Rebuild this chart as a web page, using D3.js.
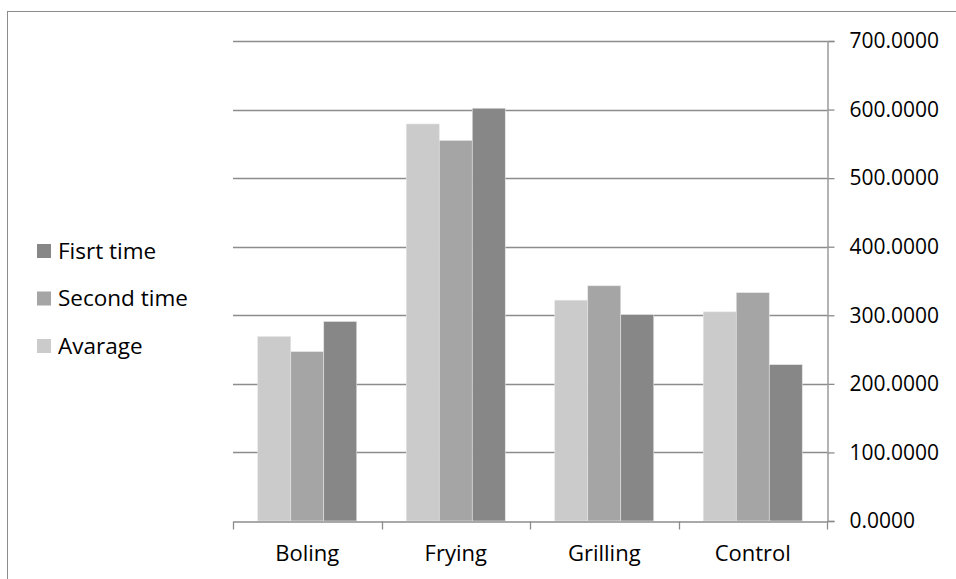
<!DOCTYPE html>
<html>
<head>
<meta charset="utf-8">
<script src="https://cdn.jsdelivr.net/npm/d3@7"></script>
<style>
  body { margin: 0; background: #fff; }
  svg text { font-family: "Open Sans", "Noto Sans", sans-serif; fill: #000; }
</style>
</head>
<body>
<div id="chart"></div>
<script>
// categories and series
const categories = ["Boling", "Frying", "Grilling", "Control"];
const seriesNames = ["Avarage", "Second time", "Fisrt time"];
const avarage = [269, 579, 322, 305];
const secondTime = [247, 555, 343, 333];
const firstTime = [291, 602, 301, 228];
const yTicks = [0, 100, 200, 300, 400, 500, 600, 700];
const legendOrder = ["Fisrt time", "Second time", "Avarage"];

const colors = {"Avarage": "#cbcbcb", "Second time": "#a5a5a5", "Fisrt time": "#878787"};
const valuesBySeries = {"Avarage": avarage, "Second time": secondTime, "Fisrt time": firstTime};

const W = 956, H = 579;
const plot = {left: 233, right: 827, top: 41, bottom: 521};

const svg = d3.select("#chart").append("svg")
    .attr("width", W)
    .attr("height", H);

// outer chart border
svg.append("rect")
    .attr("x", 7.5).attr("y", 11.5)
    .attr("width", 1000).attr("height", 1000)
    .attr("fill", "none")
    .attr("stroke", "#8c8c8c")
    .attr("stroke-width", 1);

// scales
const x0 = d3.scaleBand()
    .domain(categories)
    .range([plot.left, plot.right])
    .padding(0);

const x1 = d3.scaleBand()
    .domain(seriesNames)
    .range([0, x0.bandwidth()])
    .paddingInner(0)
    .paddingOuter(0.75);

const y = d3.scaleLinear()
    .domain([0, 700])
    .range([plot.bottom, plot.top]);

// gridlines
svg.append("g")
    .selectAll("line")
    .data(yTicks.filter(d => d > 0))
    .enter().append("line")
    .attr("x1", plot.left)
    .attr("x2", plot.right)
    .attr("y1", d => Math.round(y(d)) + 0.5)
    .attr("y2", d => Math.round(y(d)) + 0.5)
    .attr("stroke", "#8c8c8c")
    .attr("stroke-width", 1.3);

// bars
const rows = categories.map((c, i) => ({
    cat: c,
    vals: seriesNames.map(s => ({series: s, value: valuesBySeries[s][i]}))
}));

const groups = svg.append("g")
    .selectAll("g")
    .data(rows)
    .enter().append("g")
    .attr("transform", d => "translate(" + x0(d.cat) + ",0)");

groups.selectAll("rect")
    .data(d => d.vals)
    .enter().append("rect")
    .attr("x", d => x1(d.series))
    .attr("y", d => y(d.value))
    .attr("width", x1.bandwidth())
    .attr("height", d => y(0) - y(d.value))
    .attr("fill", d => colors[d.series])
    .attr("stroke", "#e6e6e6")
    .attr("stroke-width", 0.6);

// y axis on the right
const yAxis = d3.axisRight(y)
    .tickValues(yTicks)
    .tickSize(7)
    .tickPadding(15)
    .tickFormat(d3.format(".4f"));

const yg = svg.append("g")
    .attr("class", "y-axis")
    .attr("transform", "translate(" + (plot.right + 0.5) + ",0)")
    .call(yAxis);

yg.select(".domain").attr("stroke", "#8c8c8c").attr("stroke-width", 1.3);
yg.selectAll(".tick line").attr("stroke", "#8c8c8c").attr("stroke-width", 1.3);
yg.selectAll(".tick text")
    .attr("font-size", "21px")
    .attr("fill", "#000");

// x axis at the bottom
const xAxis = d3.axisBottom(x0)
    .tickSize(0)
    .tickPadding(24);

const xg = svg.append("g")
    .attr("class", "x-axis")
    .attr("transform", "translate(0," + (plot.bottom + 0.5) + ")")
    .call(xAxis);

xg.select(".domain").attr("stroke", "#8c8c8c").attr("stroke-width", 1.3);
xg.selectAll(".tick text")
    .attr("font-size", "22px")
    .attr("fill", "#000");

// category boundary ticks
const boundaries = categories.map(c => x0(c)).concat([plot.right]);
xg.append("g")
    .selectAll("line")
    .data(boundaries)
    .enter().append("line")
    .attr("x1", d => Math.round(d) + 0.5)
    .attr("x2", d => Math.round(d) + 0.5)
    .attr("y1", 0)
    .attr("y2", 8)
    .attr("stroke", "#8c8c8c")
    .attr("stroke-width", 1.3);

// legend
const legend = svg.append("g")
    .selectAll("g")
    .data(legendOrder)
    .enter().append("g")
    .attr("transform", (d, i) => "translate(37," + (251 + i * 47.5) + ")");

legend.append("rect")
    .attr("x", 0)
    .attr("y", -7)
    .attr("width", 14)
    .attr("height", 14)
    .attr("fill", d => colors[d]);

legend.append("text")
    .attr("x", 21)
    .attr("y", 0)
    .attr("dy", "0.35em")
    .attr("font-size", "22.5px")
    .text(d => d);
</script>
</body>
</html>
